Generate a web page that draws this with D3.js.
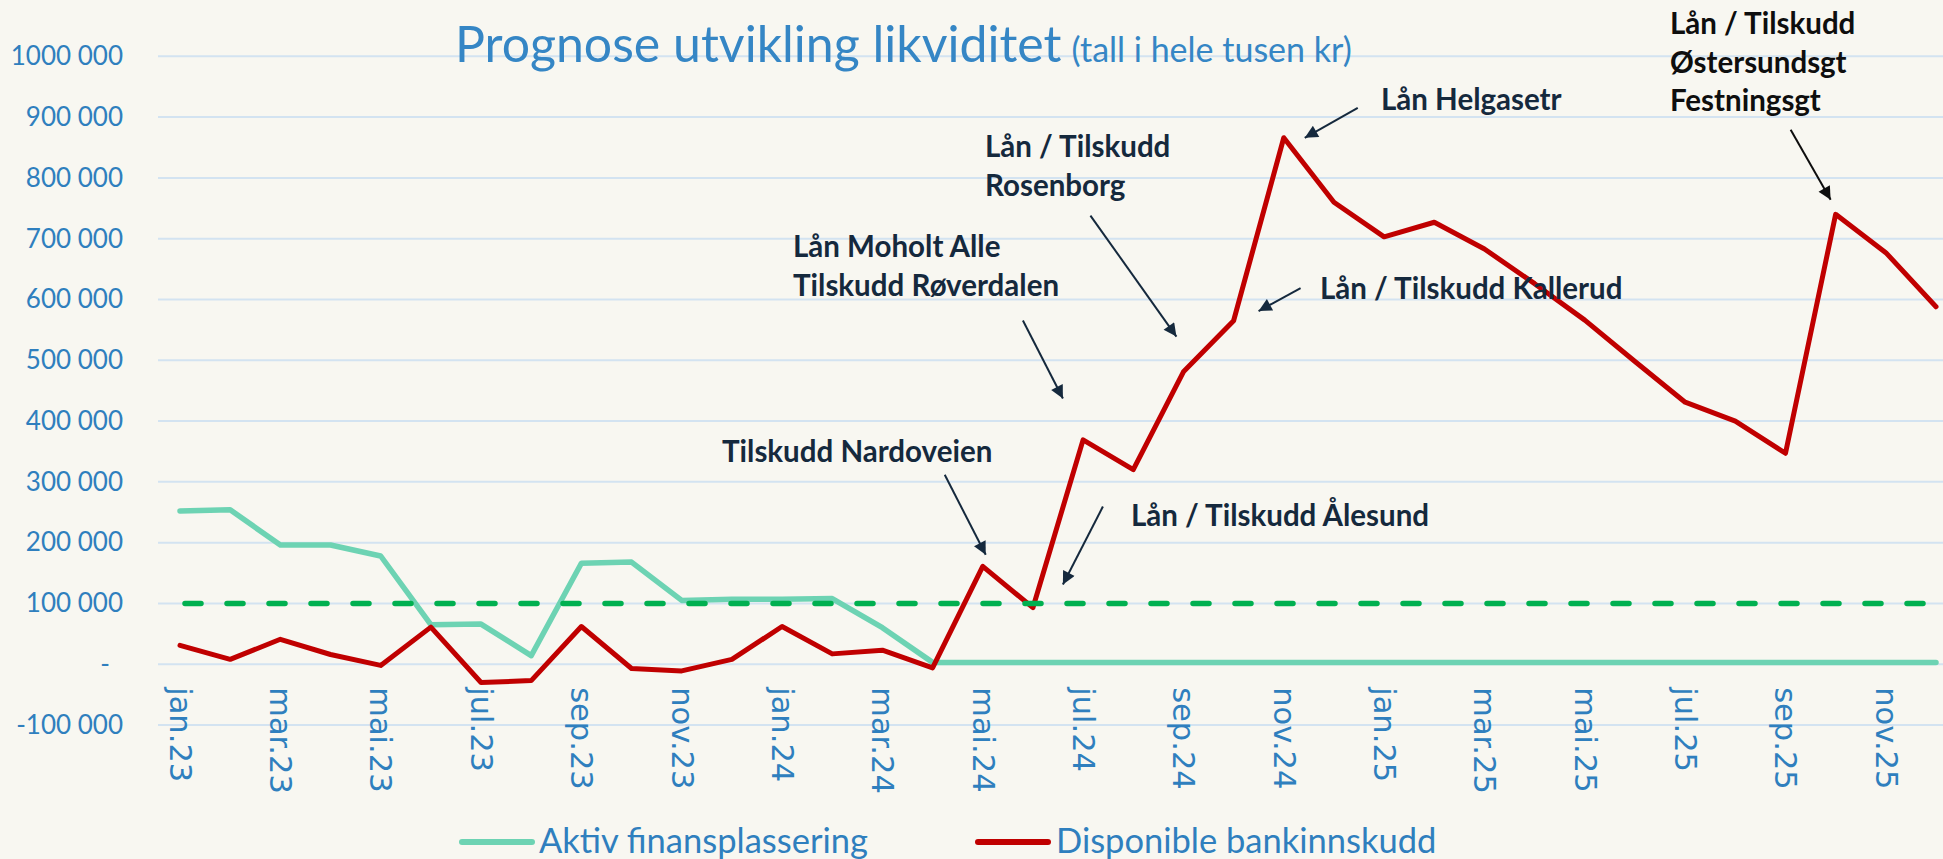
<!DOCTYPE html>
<html>
<head>
<meta charset="utf-8">
<script src="https://cdn.jsdelivr.net/npm/d3@7"></script>
<style>
  html, body { margin: 0; padding: 0; background: #F8F7F1; overflow: hidden; }
  svg { display: block; }
</style>
</head>
<body>
<svg id="chart" width="1943" height="859"></svg>
<script>
// ---------------- DATA ----------------
const months = [
  "jan.23","feb.23","mar.23","apr.23","mai.23","jun.23","jul.23","aug.23","sep.23","okt.23","nov.23","des.23",
  "jan.24","feb.24","mar.24","apr.24","mai.24","jun.24","jul.24","aug.24","sep.24","okt.24","nov.24","des.24",
  "jan.25","feb.25","mar.25","apr.25","mai.25","jun.25","jul.25","aug.25","sep.25","okt.25","nov.25","des.25"
];
const xTickLabels = months.filter((m, i) => i % 2 === 0);

const aktivFinansplassering = [
  252000, 254000, 196000, 196000, 178000, 65000, 66000, 14000, 166000, 168000, 105000, 107000,
  107000, 108000, 60000, 3000, 3000, 3000, 3000, 3000, 3000, 3000, 3000, 3000,
  3000, 3000, 3000, 3000, 3000, 3000, 3000, 3000, 3000, 3000, 3000, 3000
];
const disponibleBankinnskudd = [
  31000, 8000, 41000, 16000, -2000, 61000, -30000, -27000, 62000, -7000, -11000, 8000,
  62000, 17000, 23000, -6000, 161000, 93000, 369000, 320000, 481000, 565000, 866000, 760000,
  703000, 727000, 683000, 626000, 566000, 498000, 431000, 400000, 347000, 740000, 677000, 588000
];
const minimumsniva = months.map(() => 100000);

const yTickValues = [-100000, 0, 100000, 200000, 300000, 400000, 500000, 600000, 700000, 800000, 900000, 1000000];
const yTickLabels = ["-100 000", "-", "100 000", "200 000", "300 000", "400 000", "500 000", "600 000", "700 000", "800 000", "900 000", "1000 000"];

const seriesNames = ["Aktiv finansplassering", "Disponible bankinnskudd"];

// annotations: arrow tip anchored to category + value
const annotationTexts = [
  ["Tilskudd Nardoveien"],
  ["Lån / Tilskudd Ålesund"],
  ["Lån Moholt Alle", "Tilskudd Røverdalen"],
  ["Lån / Tilskudd", "Rosenborg"],
  ["Lån / Tilskudd Kallerud"],
  ["Lån Helgasetr"],
  ["Lån / Tilskudd", "Østersundsgt", "Festningsgt"]
];
const annotationMonths = ["mai.24", "jun.24", "jun.24", "sep.24", "okt.24", "nov.24", "okt.25"];
const annotationValues = [180000, 131000, 437000, 539000, 581000, 866000, 764000];

// ---------------- LAYOUT ----------------
const W = 1943, H = 859;
const C = {
  bg: "#F8F7F1", grid: "#D3E3F1", blue: "#2F7FBE", title: "#3586C5",
  green: "#6DD3B3", red: "#C00000", dash: "#00B050", navy: "#15293D", black: "#0E0E0E"
};
const annLayout = [
  {x: 722, y: 462, tdx: 3, tailDx: -41, tailDy: -80},
  {x: 1131, y: 526, tdx: 30, tailDx: 40, tailDy: -78},
  {x: 793, y: 257, tdx: 30, tailDx: -40, tailDy: -78},
  {x: 985, y: 157, tdx: -7, tailDx: -86, tailDy: -121},
  {x: 1320, y: 299, tdx: 25, tailDx: 42, tailDy: -23},
  {x: 1381, y: 110, tdx: 21, tailDx: 53, tailDy: -30},
  {x: 1670, y: 34, tdx: -5, tailDx: -40, tailDy: -70, color: "black"}
];

const svg = d3.select("#chart");
svg.append("rect").attr("width", W).attr("height", H).attr("fill", C.bg);

const x = d3.scalePoint().domain(months).range([180, 1936]);
const y = d3.scaleLinear().domain([-100000, 1000000]).range([725, 56.3]);
const plotLeft = 158, plotRight = W;

// gridlines
svg.append("g").selectAll("line").data(yTickValues).join("line")
  .attr("x1", plotLeft).attr("x2", plotRight)
  .attr("y1", d => y(d)).attr("y2", d => y(d))
  .attr("stroke", C.grid).attr("stroke-width", 2);

// y axis
const yAxis = svg.append("g").attr("transform", `translate(${plotLeft},0)`)
  .call(d3.axisLeft(y).tickValues(yTickValues).tickSize(0).tickPadding(35)
    .tickFormat((d, i) => yTickLabels[i]));
yAxis.select(".domain").remove();
yAxis.selectAll("text")
  .attr("fill", C.blue).style("font-family", "Lato").style("font-size", "26px")
  .attr("dx", d => d === 0 ? -13 : 0);

// x axis
const xAxis = svg.append("g").attr("transform", `translate(0,${y(0)})`)
  .call(d3.axisBottom(x).tickValues(xTickLabels).tickSize(0));
xAxis.select(".domain").remove();
xAxis.selectAll("text")
  .attr("y", 0).attr("x", 23).attr("dy", "0.35em")
  .attr("transform", "rotate(90)")
  .style("text-anchor", "start")
  .attr("fill", C.blue).style("font-family", "'DejaVu Sans', Verdana, sans-serif").style("font-size", "30.5px");

// title
const title = svg.append("text").attr("x", 455).attr("y", 62)
  .attr("fill", C.title).style("font-family", "Lato");
title.append("tspan").text("Prognose utvikling likviditet").style("font-size", "50px");
title.append("tspan").text("(tall i hele tusen kr)").attr("dx", 10).style("font-size", "34px");

// lines
const line = d3.line().x((d, i) => x(months[i])).y(d => y(d)).curve(d3.curveLinear);
svg.append("path").datum(aktivFinansplassering).attr("d", line)
  .attr("fill", "none").attr("stroke", C.green).attr("stroke-width", 5.5)
  .attr("stroke-linejoin", "round").attr("stroke-linecap", "round");
svg.append("path").datum(disponibleBankinnskudd).attr("d", line)
  .attr("fill", "none").attr("stroke", C.red).attr("stroke-width", 5)
  .attr("stroke-linejoin", "round").attr("stroke-linecap", "round");
svg.append("path").datum(minimumsniva).attr("d", line)
  .attr("fill", "none").attr("stroke", C.dash).attr("stroke-width", 5.5)
  .attr("stroke-dasharray", "16 26").attr("stroke-dashoffset", -5)
  .attr("stroke-linecap", "round");

// arrow markers
const defs = svg.append("defs");
["navy", "black"].forEach(k => {
  defs.append("marker").attr("id", "arrow-" + k)
    .attr("viewBox", "0 0 10 10").attr("refX", 10).attr("refY", 5)
    .attr("markerUnits", "userSpaceOnUse").attr("markerWidth", 16).attr("markerHeight", 13)
    .attr("orient", "auto")
    .append("path").attr("d", "M0,0 L10,5 L0,10 Z").attr("fill", C[k]);
});

// annotations
annotationTexts.forEach((lines, i) => {
  const L = annLayout[i];
  const col = L.color === "black" ? C.black : C.navy;
  const tipX = x(annotationMonths[i]) + L.tdx;
  const tipY = y(annotationValues[i]);
  svg.append("line")
    .attr("x1", tipX + L.tailDx).attr("y1", tipY + L.tailDy)
    .attr("x2", tipX).attr("y2", tipY)
    .attr("stroke", col).attr("stroke-width", 2)
    .attr("marker-end", `url(#arrow-${L.color === "black" ? "black" : "navy"})`);
  const t = svg.append("text").attr("fill", col)
    .style("font-family", "Lato").style("font-weight", "bold").style("font-size", "29.5px");
  lines.forEach((s, j) => {
    t.append("tspan").attr("x", L.x).attr("y", L.y + j * 38.5).text(s);
  });
});

// legend
const legend = [
  {name: seriesNames[0], color: C.green, x1: 462, x2: 532, tx: 539},
  {name: seriesNames[1], color: C.red, x1: 978, x2: 1048, tx: 1056}
];
const lg = svg.append("g");
legend.forEach(l => {
  lg.append("line").attr("x1", l.x1).attr("x2", l.x2).attr("y1", 842).attr("y2", 842)
    .attr("stroke", l.color).attr("stroke-width", 6).attr("stroke-linecap", "round");
  lg.append("text").attr("x", l.tx).attr("y", 853).text(l.name)
    .attr("fill", C.blue).style("font-family", "Lato").style("font-size", "34.5px");
});
</script>
</body>
</html>
